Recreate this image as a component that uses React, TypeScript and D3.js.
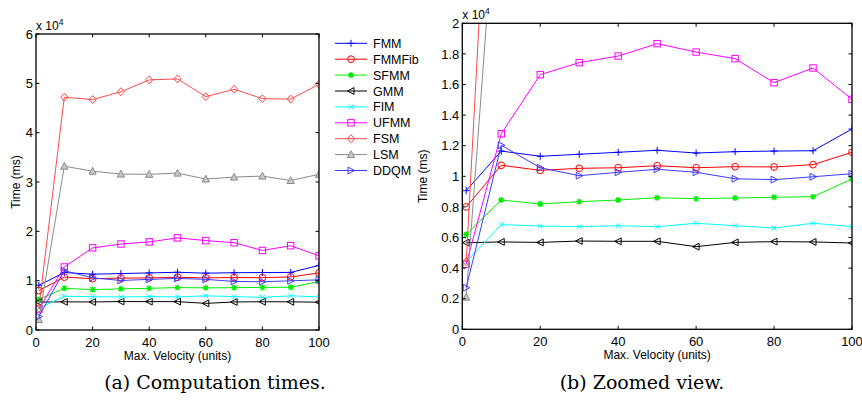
import React from "react";
import * as d3 from "d3";

const xs = [1, 10, 20, 30, 40, 50, 60, 70, 80, 90, 100];
const seriesNames = ["FMM", "FMMFib", "SFMM", "GMM", "FIM", "UFMM", "FSM", "LSM", "DDQM"];
const FMM = [9060, 11650, 11310, 11440, 11570, 11700, 11520, 11610, 11650, 11670, 13090];
const FMMFib = [8000, 10720, 10390, 10520, 10560, 10690, 10560, 10630, 10610, 10760, 11570];
const SFMM = [6200, 8450, 8190, 8340, 8450, 8600, 8540, 8580, 8630, 8670, 9820];
const GMM = [5660, 5710, 5680, 5770, 5750, 5750, 5400, 5680, 5730, 5710, 5640];
const FIM = [4400, 6840, 6750, 6710, 6770, 6710, 6930, 6770, 6620, 6930, 6710];
const UFMM = [4250, 12780, 16640, 17430, 17860, 18670, 18120, 17690, 16120, 17080, 15030];
const FSM = [4400, 47200, 46700, 48300, 50700, 50900, 47300, 48800, 46900, 46800, 49800];
const LSM = [2100, 33200, 32200, 31600, 31560, 31800, 30600, 31000, 31200, 30300, 31560];
const DDQM = [2720, 12030, 10560, 10040, 10260, 10460, 10260, 9840, 9780, 9970, 10170];
const seriesValues = [FMM, FMMFib, SFMM, GMM, FIM, UFMM, FSM, LSM, DDQM];

const xTicks = [0, 20, 40, 60, 80, 100];
const yTicksA = [0, 1, 2, 3, 4, 5, 6];
const yTicksB = [0, 0.2, 0.4, 0.6, 0.8, 1, 1.2, 1.4, 1.6, 1.8, 2];
const captionA = "(a) Computation times.";
const captionB = "(b) Zoomed view.";
const xLabel = "Max. Velocity (units)";
const yLabel = "Time (ms)";

const SANS = "'Liberation Sans', Arial, Helvetica, sans-serif";
const SERIF = "'DejaVu Serif', serif";

const styles = [
  { color: "#0000ff", marker: "+" },
  { color: "#ff0000", marker: "o" },
  { color: "#00ee00", marker: "*" },
  { color: "#000000", marker: "<" },
  { color: "#00ffff", marker: "x" },
  { color: "#ff00ff", marker: "s" },
  { color: "#ff4a4a", marker: "d" },
  { color: "#8a8a8a", marker: "^" },
  { color: "#3c3cff", marker: ">" },
];

function Marker({ type, x, y, color }: { type: string; x: number; y: number; color: string }) {
  const common = { stroke: color, strokeWidth: 1, fill: "none" };
  const t = `translate(${x},${y})`;
  switch (type) {
    case "+":
      return <path transform={t} d="M-3.5,0H3.5M0,-3.5V3.5" {...common} />;
    case "o":
      return <circle cx={x} cy={y} r={3.4} {...common} />;
    case "*":
      return <path transform={t} d="M-3,0H3M0,-3V3M-2.2,-2.2L2.2,2.2M-2.2,2.2L2.2,-2.2" {...common} strokeWidth={1.3} />;
    case "<":
      return <path transform={t} d="M-3.6,0L3,-3.4L3,3.4Z" {...common} />;
    case ">":
      return <path transform={t} d="M3.6,0L-3,-3.4L-3,3.4Z" {...common} />;
    case "x":
      return <path transform={t} d="M-2.4,-2.4L2.4,2.4M-2.4,2.4L2.4,-2.4" {...common} />;
    case "s":
      return <rect x={x - 3.2} y={y - 3.2} width={6.4} height={6.4} {...common} />;
    case "d":
      return <path transform={t} d="M0,-4L3.6,0L0,4L-3.6,0Z" {...common} />;
    case "^":
      return <path transform={t} d="M0,-3.8L3.6,3L-3.6,3Z" stroke={color} strokeWidth={1} fill="#c8c8c8" />;
    default:
      return null;
  }
}

function Chart({ id, left, right, top, bottom, yMax, yTicks, fmt, labelX }: any) {
  const x = d3.scaleLinear().domain([0, 100]).range([left, right]);
  const y = d3.scaleLinear().domain([0, yMax]).range([bottom, top]);
  const line = d3
    .line<number>()
    .x((_, i) => x(xs[i]))
    .y((v) => y(v / 1e4));
  const tl = 3.5;
  return (
    <g>
      <defs>
        <clipPath id={id}>
          <rect x={left} y={top} width={right - left} height={bottom - top} />
        </clipPath>
      </defs>
      <g clipPath={`url(#${id})`}>
        {seriesValues.map((vals, si) => (
          <g key={si}>
            <path d={line(vals) || ""} fill="none" stroke={styles[si].color} strokeWidth={1} />
            {vals.map((v, i) => (
              <Marker key={i} type={styles[si].marker} x={x(xs[i])} y={y(v / 1e4)} color={styles[si].color} />
            ))}
          </g>
        ))}
      </g>
      <rect x={left} y={top} width={right - left} height={bottom - top} fill="none" stroke="#000" strokeWidth={1.3} />
      {xTicks.map((t) => (
        <g key={"x" + t}>
          <line x1={x(t)} x2={x(t)} y1={bottom} y2={bottom - tl} stroke="#000" />
          <line x1={x(t)} x2={x(t)} y1={top} y2={top + tl} stroke="#000" />
          <text x={x(t)} y={bottom + 17} textAnchor="middle" fontSize={13} fontFamily={SANS}>
            {t}
          </text>
        </g>
      ))}
      {yTicks.map((t: number) => (
        <g key={"y" + t}>
          <line x1={left} x2={left + tl} y1={y(t)} y2={y(t)} stroke="#000" />
          <line x1={right} x2={right - tl} y1={y(t)} y2={y(t)} stroke="#000" />
          <text x={left - 3} y={y(t) + 4.7} textAnchor="end" fontSize={13} fontFamily={SANS}>
            {fmt(t)}
          </text>
        </g>
      ))}
      <text x={left} y={top - 4} fontSize={12} fontFamily={SANS}>
        x 10<tspan dy={-5} fontSize={8.5}>4</tspan>
      </text>
      <text x={(left + right) / 2} y={bottom + 30} textAnchor="middle" fontSize={12} fontFamily={SANS}>
        {xLabel}
      </text>
      <text
        transform={`translate(${labelX},${(top + bottom) / 2}) rotate(-90)`}
        textAnchor="middle"
        fontSize={12}
        fontFamily={SANS}
      >
        {yLabel}
      </text>
    </g>
  );
}

export default function App() {
  const fmtA = (t: number) => String(t);
  const fmtB = (t: number) => (t === 0 || t === 1 || t === 2 ? String(t) : d3.format(".1f")(t));
  const legY0 = 43.3;
  const legDy = 15.9;
  return (
    <svg width={862} height={403} style={{ position: "absolute", left: 0, top: 0, background: "#fff" }}>
      <rect width={862} height={403} fill="#fff" />
      <Chart id="clipA" left={36} right={319} top={34} bottom={330} yMax={6} yTicks={yTicksA} fmt={fmtA} labelX={20} />
      <Chart id="clipB" left={462.3} right={852} top={23.3} bottom={329.3} yMax={2} yTicks={yTicksB} fmt={fmtB} labelX={427} />
      <g>
        {seriesNames.map((n, i) => {
          const yy = legY0 + i * legDy;
          return (
            <g key={n}>
              <line x1={335} x2={367} y1={yy} y2={yy} stroke={styles[i].color} strokeWidth={1} />
              <Marker type={styles[i].marker} x={351} y={yy} color={styles[i].color} />
              <text x={373} y={yy + 4.5} fontSize={12.5} fontFamily={SANS}>
                {n}
              </text>
            </g>
          );
        })}
      </g>
      <text x={215} y={389} textAnchor="middle" fontSize={19} fontFamily={SERIF}>
        {captionA}
      </text>
      <text x={642} y={389} textAnchor="middle" fontSize={19} fontFamily={SERIF}>
        {captionB}
      </text>
    </svg>
  );
}
